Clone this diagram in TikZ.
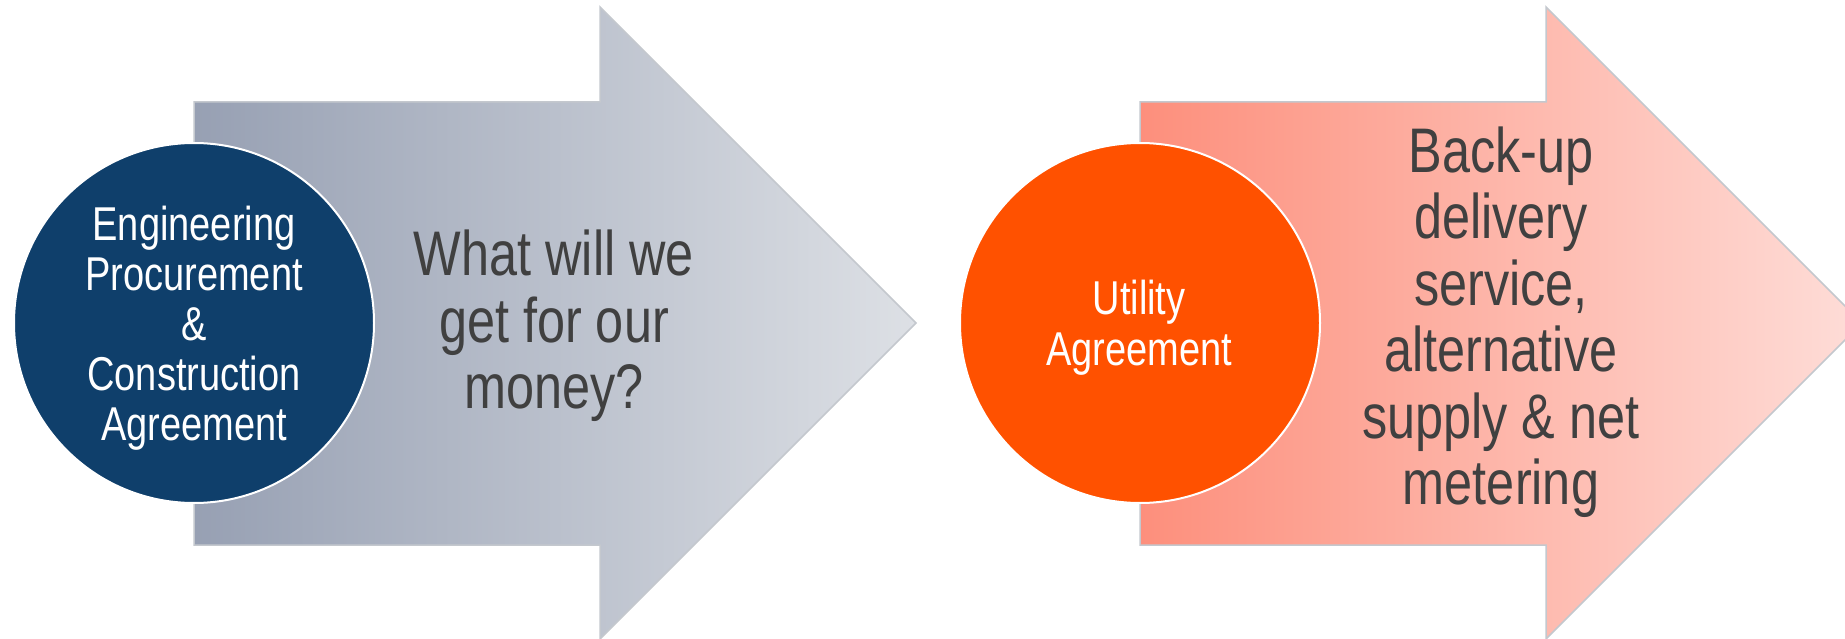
\documentclass[tikz,border=0pt]{standalone}
\usepackage{fontspec}
\setmainfont[FakeStretch=0.8]{Liberation Sans}
\definecolor{navy}{HTML}{0F3F6B}
\definecolor{orng}{HTML}{FF5100}
\definecolor{txt}{HTML}{404040}
\definecolor{edge}{HTML}{C4C8CE}
\definecolor{gl}{HTML}{97A0B3}
\definecolor{gr}{HTML}{DDE0E5}
\definecolor{ol}{HTML}{FD8F7C}
\definecolor{or}{HTML}{FEDDD8}
\tikzset{
  arrowbody/.style={draw=edge, line width=1.5pt},
  disc/.style={circle, draw=white, line width=2pt, minimum size=360pt, inner sep=0pt, text=white, align=center, font=\fontsize{47.5}{50}\selectfont},
  bigtext/.style={text=txt, align=center, font=\fontsize{63}{66.5}\selectfont}
}
\begin{document}
\begin{tikzpicture}[x=1pt,y=-1pt]
\useasboundingbox (0,0) rectangle (1845,639);
\clip (0,0) rectangle (1845,639);
\fill[white] (0,0) rectangle (1845,639);
% arrow 1
\shade[arrowbody, left color=gl, right color=gr]
  (194,102) -- (600,102) -- (600,7) -- (916,323) -- (600,639) -- (600,545) -- (194,545) -- cycle;
% arrow 2
\shade[arrowbody, left color=ol, right color=or]
  (1140,102) -- (1546,102) -- (1546,7) -- (1862,323) -- (1546,639) -- (1546,545) -- (1140,545) -- cycle;
% circles
\node[disc, fill=navy] (epc) at (194,323) {};
\node[text=white, align=center, font=\fontsize{47.5}{50}\selectfont] (epct) at (194,328) {Engineering\\Procurement\\\&\\Construction\\Agreement};
\node[disc, fill=orng] (util) at (1140,323) {};
\node[text=white, align=center, font=\fontsize{47.5}{51}\selectfont] (utilt) at (1139,328) {Utility\\Agreement};
% texts
\node[bigtext] (q) at (554,326) {What will we\\get for our\\money?};
\node[bigtext] (b) at (1501,322) {Back-up\\delivery\\service,\\alternative\\supply \& net\\metering};
\end{tikzpicture}
\end{document}
